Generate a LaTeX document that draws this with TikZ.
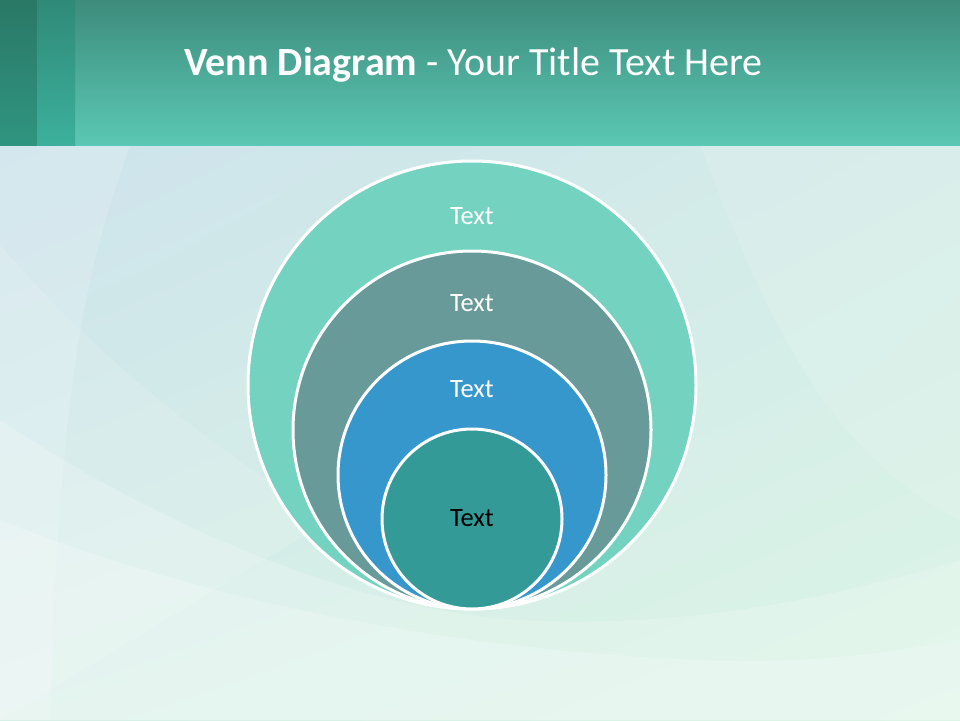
\documentclass[tikz,border=0pt]{standalone}
\usepackage{fontspec}
\setmainfont{Carlito}
\usepackage{xcolor}
\usepackage{tikz}
\usetikzlibrary{positioning,shadings}

\definecolor{hdrtop}{HTML}{3E8C7C}
\definecolor{hdrbot}{HTML}{5AC8B4}
\definecolor{stripAtop}{HTML}{2A7866}
\definecolor{stripAbot}{HTML}{2F9580}
\definecolor{stripBtop}{HTML}{2F8A78}
\definecolor{stripBbot}{HTML}{3CB09C}
\definecolor{bgblue}{HTML}{CDE3EC}
\definecolor{bgmid}{HTML}{D4ECE8}
\definecolor{bggreen}{HTML}{DCF5E6}
\definecolor{ringA}{HTML}{74D3C0}
\definecolor{ringB}{HTML}{689A9A}
\definecolor{ringC}{HTML}{3597CC}
\definecolor{ringD}{HTML}{339A97}

\begin{document}
\begin{tikzpicture}[
    x=1pt, y=-1pt,
    ring/.style={circle, draw=white, line width=3pt, inner sep=0pt},
    lbl/.style={font=\fontsize{26.5}{30}\selectfont, text=white, inner sep=0pt},
    swoosh/.style={fill=white, opacity=0.2},
]
\useasboundingbox (0,0) rectangle (960,720);

% --- background ---
\shade[upper left=bgblue, upper right=bgmid, lower left=bgmid!70!bggreen,
       lower right=bggreen] (0,145) rectangle (960,720);
\fill[swoosh, opacity=0.15] (130,145) .. controls (90,260) and (60,360) .. (50,720)
  -- (0,720) -- (0,145) -- cycle;
\fill[swoosh, opacity=0.12] (0,245) .. controls (100,360) and (200,440) .. (330,520)
  -- (0,720) -- cycle;
\fill[swoosh] (0,420) .. controls (150,520) and (350,610) .. (520,620)
  .. controls (700,630) and (860,590) .. (960,560) -- (960,720) -- (0,720) -- cycle;
\fill[swoosh] (0,520) .. controls (200,600) and (450,650) .. (700,660)
  .. controls (820,665) and (900,650) .. (960,640) -- (960,720) -- (0,720) -- cycle;
\fill[swoosh, opacity=0.12] (700,145) .. controls (760,300) and (820,450) .. (960,520)
  -- (960,145) -- cycle;

% --- header band ---
\shade[top color=hdrtop, bottom color=hdrbot] (0,0) rectangle (960,145);
\shade[top color=stripAtop, bottom color=stripAbot] (0,0) rectangle (37,145);
\shade[top color=stripBtop, bottom color=stripBbot] (37,0) rectangle (75,145);
\node[anchor=base west, text=white, inner sep=0pt,
      font=\fontsize{40}{46}\selectfont] (title) at (184,75)
  {\textbf{Venn Diagram} - Your Title Text Here};

% --- nested circles (outer to inner) ---
\node[ring, fill=ringA, minimum size=448pt] (outer) at (472,385) {};
\node[ring, fill=ringB, minimum size=358pt] (second) at (472,430) {};
\node[ring, fill=ringC, minimum size=268pt] (third) at (472,475) {};
\node[ring, fill=ringD, minimum size=180pt] (inner) at (472,519) {};

% --- labels ---
\node[lbl] (outertext) at (472,216) {Text};
\node[lbl] (secondtext) at (472,303) {Text};
\node[lbl] (thirdtext) at (472,389) {Text};
\node[lbl, text=black] (innertext) at (472,518) {Text};
\end{tikzpicture}
\end{document}
